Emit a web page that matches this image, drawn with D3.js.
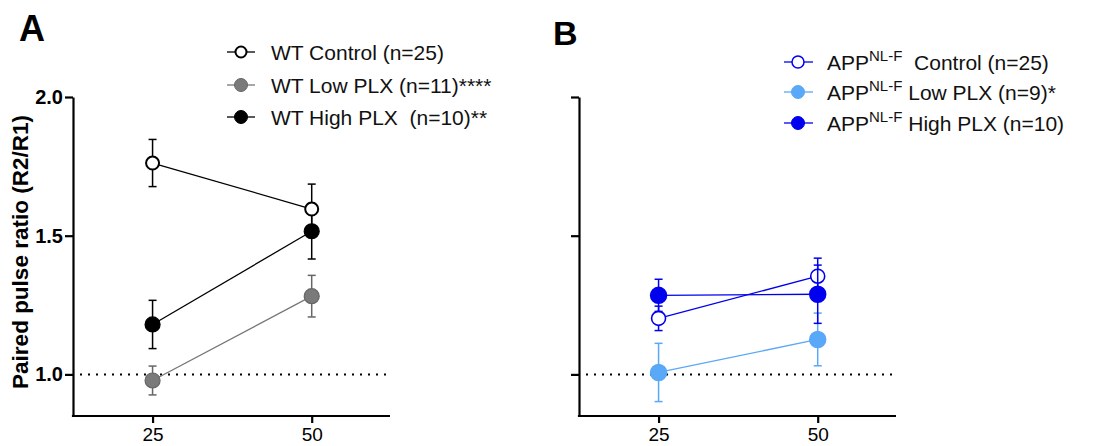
<!DOCTYPE html>
<html>
<head>
<meta charset="utf-8">
<style>
  body { margin: 0; background: #fff; }
  svg { font-family: Arial, "Liberation Sans", sans-serif; }
</style>
</head>
<body>
<script src="https://d3js.org/d3.v7.min.js"></script>
<div id="chart"></div>
<script>
// interval values (ms)
var intervals = [25, 50];
var yTicks = [1.0, 1.5, 2.0];

// panel A: WT
var wtControl = [1.762, 1.596], wtControlErr = [0.085, 0.09];
var wtLow = [0.978, 1.282], wtLowErr = [0.052, 0.075];
var wtHigh = [1.18, 1.516], wtHighErr = [0.087, 0.1];

// panel B: APP NL-F
var appControl = [1.202, 1.354], appControlErr = [0.044, 0.065];
var appLow = [1.007, 1.126], appLowErr = [0.105, 0.095];
var appHigh = [1.285, 1.289], appHighErr = [0.058, 0.105];

var legendA = ["WT Control (n=25)", "WT Low PLX (n=11)****", "WT High PLX  (n=10)**"];
var legendB = ["  Control (n=25)", " Low PLX (n=9)*", " High PLX (n=10)"];

var svg = d3.select("#chart").append("svg")
  .attr("width", 1096).attr("height", 446);

var y = d3.scaleLinear().domain([0.85, 2.0]).range([416, 97]);

var panelA = [
  {vals: wtLow, err: wtLowErr, stroke: "#666", fill: "#7a7a7a", line: "#777", r: 7.5, sw: 1.2},
  {vals: wtHigh, err: wtHighErr, stroke: "#000", fill: "#000", line: "#000", r: 7.5, sw: 1.2},
  {vals: wtControl, err: wtControlErr, stroke: "#000", fill: "#fff", line: "#000", r: 6.5, sw: 2}
];
var panelB = [
  {vals: appLow, err: appLowErr, stroke: "#5aa8f8", fill: "#5aa8f8", line: "#5aa8f8", r: 8, sw: 1.5},
  {vals: appControl, err: appControlErr, stroke: "#0000ee", fill: "#fff", line: "#0000ee", r: 7, sw: 1.6},
  {vals: appHigh, err: appHighErr, stroke: "#0000ee", fill: "#0000ee", line: "#0000ee", r: 8, sw: 1.5}
];

function drawPanel(x0, series, showLabels) {
  var x = d3.scaleLinear().domain([12.5, 62.3]).range([x0, x0 + 317]);
  var g = svg.append("g");

  // dotted reference line at 1.0
  g.append("line")
    .attr("x1", x0 + 7).attr("x2", x0 + 316)
    .attr("y1", y(1)).attr("y2", y(1))
    .attr("stroke", "#000").attr("stroke-width", 2)
    .attr("stroke-dasharray", "2,6");

  var ya = g.append("g").attr("transform", "translate(" + x0 + ",0)")
    .call(d3.axisLeft(y).tickValues(yTicks).tickSize(8).tickSizeOuter(0).tickPadding(2)
      .tickFormat(showLabels ? d3.format(".1f") : ""));
  var xa = g.append("g").attr("transform", "translate(0," + y.range()[0] + ")")
    .call(d3.axisBottom(x).tickValues(intervals).tickSize(7).tickSizeOuter(0).tickPadding(5));

  [ya, xa].forEach(function(a) {
    a.attr("font-family", null).attr("font-size", null);
    a.select(".domain").attr("stroke-width", 2.2);
    a.selectAll(".tick line").attr("stroke-width", 2.2);
  });
  ya.selectAll("text").style("font-size", "20px").style("font-weight", "bold").attr("fill", "#000");
  xa.selectAll("text").style("font-size", "19px").attr("fill", "#000");
  // extend x domain to meet y axis cleanly
  xa.select(".domain").attr("d", "M" + (x0 - 1.1) + ",0H" + (x0 + 317));

  series.forEach(function(s) {
    var pts = intervals.map(function(d, i) { return {x: d, v: s.vals[i], e: s.err[i]}; });
    var sg = g.append("g");
    sg.append("path").datum(pts)
      .attr("d", d3.line().x(function(d) { return x(d.x); }).y(function(d) { return y(d.v); }))
      .attr("fill", "none").attr("stroke", s.line).attr("stroke-width", 1.3);
    pts.forEach(function(p) {
      var cx = x(p.x);
      sg.append("line").attr("x1", cx).attr("x2", cx)
        .attr("y1", y(p.v - p.e)).attr("y2", y(p.v + p.e))
        .attr("stroke", s.stroke).attr("stroke-width", 1.5);
      [p.v - p.e, p.v + p.e].forEach(function(v) {
        sg.append("line").attr("x1", cx - 4).attr("x2", cx + 4)
          .attr("y1", y(v)).attr("y2", y(v))
          .attr("stroke", s.stroke).attr("stroke-width", 1.5);
      });
    });
    sg.selectAll("circle").data(pts).enter().append("circle")
      .attr("cx", function(d) { return x(d.x); })
      .attr("cy", function(d) { return y(d.v); })
      .attr("r", s.r)
      .attr("fill", s.fill).attr("stroke", s.stroke).attr("stroke-width", s.sw);
  });
}

drawPanel(73, panelA, true);
drawPanel(579, panelB, false);

// panel letters
svg.append("text").attr("x", 19).attr("y", 41).text("A")
  .style("font-size", "36px").attr("font-weight", "bold");
svg.append("text").attr("x", 553).attr("y", 45).text("B")
  .style("font-size", "34px").attr("font-weight", "bold");

// y label
svg.append("text")
  .attr("transform", "translate(28,252) rotate(-90)")
  .attr("text-anchor", "middle")
  .style("font-size", "22.5px").attr("font-weight", "bold")
  .text("Paired pulse ratio (R2/R1)");

// legends
var legAStyles = [
  {stroke: "#000", fill: "#fff", line: "#000", r: 5.5, sw: 2},
  {stroke: "#666", fill: "#7a7a7a", line: "#777", r: 6.5, sw: 1},
  {stroke: "#000", fill: "#000", line: "#000", r: 6.5, sw: 1}
];
var legARows = [52, 85, 117];
legendA.forEach(function(t, i) {
  var s = legAStyles[i], cy = legARows[i];
  svg.append("line").attr("x1", 227).attr("x2", 255).attr("y1", cy).attr("y2", cy)
    .attr("stroke", s.line).attr("stroke-width", 1.3);
  svg.append("circle").attr("cx", 241).attr("cy", cy).attr("r", s.r)
    .attr("fill", s.fill).attr("stroke", s.stroke).attr("stroke-width", s.sw);
  svg.append("text").attr("x", 271).attr("y", cy + 7.5).style("font-size", "21px")
    .attr("fill", "#111").style("white-space", "pre").text(t);
});

var legBStyles = [
  {stroke: "#0000ee", fill: "#fff", line: "#0000ee", r: 6, sw: 1.5},
  {stroke: "#5aa8f8", fill: "#5aa8f8", line: "#5aa8f8", r: 6.5, sw: 1},
  {stroke: "#0000ee", fill: "#0000ee", line: "#0000ee", r: 6.5, sw: 1}
];
var legBRows = [62, 92, 123];
legendB.forEach(function(t, i) {
  var s = legBStyles[i], cy = legBRows[i];
  svg.append("line").attr("x1", 784).attr("x2", 813).attr("y1", cy).attr("y2", cy)
    .attr("stroke", s.line).attr("stroke-width", 1.3);
  svg.append("circle").attr("cx", 798).attr("cy", cy).attr("r", s.r)
    .attr("fill", s.fill).attr("stroke", s.stroke).attr("stroke-width", s.sw);
  var tx = svg.append("text").attr("x", 827).attr("y", cy + 7.5).style("font-size", "21px")
    .attr("fill", "#111").style("white-space", "pre");
  tx.append("tspan").text("APP");
  tx.append("tspan").style("font-size", "15px").attr("dy", -9).text("NL-F");
  tx.append("tspan").attr("dy", 9).text(t);
});
</script>
</body>
</html>
